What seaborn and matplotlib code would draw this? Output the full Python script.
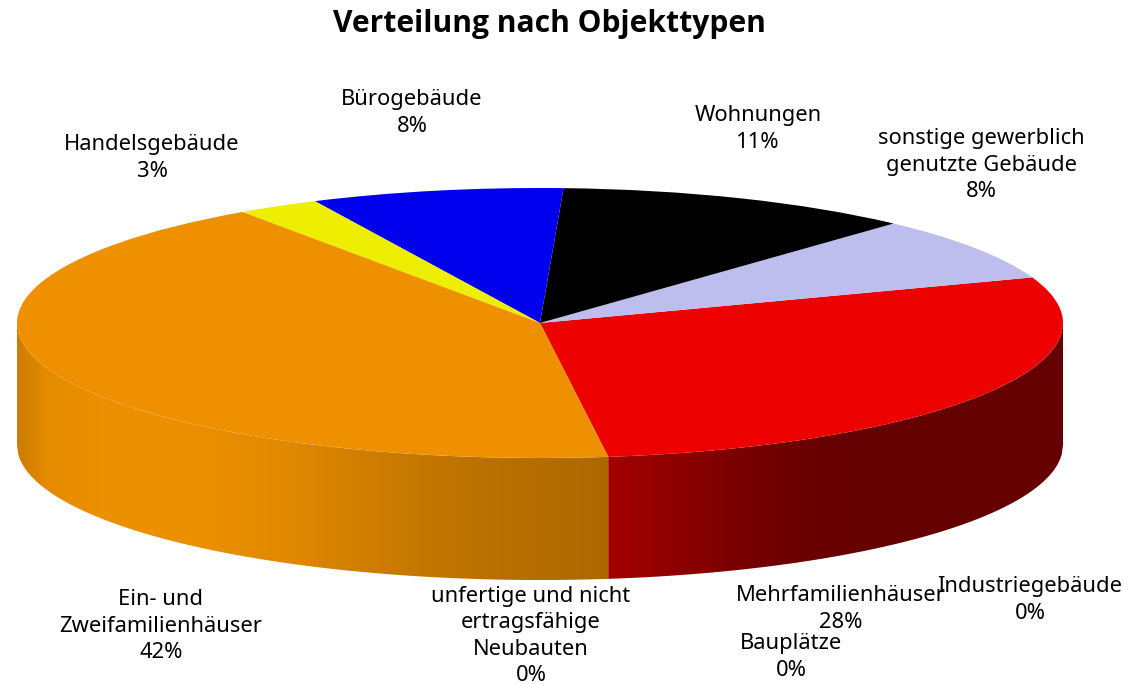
import numpy as np
import matplotlib
matplotlib.use("Agg")
import matplotlib.pyplot as plt
from matplotlib.patches import Polygon
import seaborn as sns

# data, counterclockwise from the front edge of the pie
categories = ["Mehrfamilienhäuser", "Industriegebäude", "sonstige gewerblich\ngenutzte Gebäude",
              "Wohnungen", "Bürogebäude", "Handelsgebäude", "Ein- und\nZweifamilienhäuser",
              "unfertige und nicht\nertragsfähige\nNeubauten", "Bauplätze"]
shares = [28.4, 0.0, 7.7, 11.1, 7.8, 2.55, 42.45, 0.0, 0.0]
colors = ["#ec0000", "#808000", "#bdbdee", "#000000", "#0000ee", "#eeee00", "#ee9000", "#008000", "#00aa00"]

# label centres in pixels
label_pos = [(841, 609), (1030, 600), (981, 165), (758, 129), (412, 113), (152, 158), (161, 626), (531, 636), (791, 657)]

W, H = 1128, 685
CX, CY, RX, RY, DEPTH = 540, 323, 523, 135, 122
START = -82.5

sns.set_theme(style="white")
plt.rcParams["font.family"] = ["Noto Sans", "DejaVu Sans"]

fig = plt.figure(figsize=(W / 100, H / 100), dpi=100)
ax = fig.add_axes([0, 0, 1, 1])

depth = DEPTH / RY
front = np.cos(np.radians(START))


def side_face(x0, x1, px_stops, rgb_stops):
    # one piece of the pie wall with a horizontal colour fade
    xs = np.linspace(x0, x1, 400)
    top = -np.sqrt(np.clip(1 - xs ** 2, 0, 1))
    outline = np.r_[np.c_[xs, top], np.c_[xs[::-1], top[::-1] - depth]]
    px = CX + RX * xs
    grad = np.stack([np.interp(px, px_stops, [c[i] for c in rgb_stops]) for i in range(3)], axis=-1) / 255
    img = ax.imshow(grad[np.newaxis, :, :], extent=(x0, x1, -1 - depth, 0), aspect="auto", zorder=1)
    patch = Polygon(outline, closed=True, transform=ax.transData, fc="none", ec="none")
    ax.add_patch(patch)
    img.set_clip_path(patch)


side_face(-1, front,
          [18, 45, 110, 200, 290, 400, 500, 608],
          [(205, 125, 0), (228, 139, 0), (238, 145, 0), (236, 144, 0), (224, 136, 0), (200, 122, 0), (185, 112, 0), (172, 104, 0)])
side_face(front, 1,
          [608, 680, 760, 850, 1063],
          [(165, 0, 0), (140, 0, 0), (115, 0, 0), (100, 0, 0), (100, 0, 0)])

# top surface
wedges, _ = ax.pie(shares, colors=colors, startangle=START, counterclock=True, radius=1, center=(0, 0),
                   wedgeprops={"linewidth": 0, "zorder": 2})
ax.set_aspect("auto")
ax.set_xlim((0 - CX) / RX, (W - CX) / RX)
ax.set_ylim((CY - H) / RY, CY / RY)
ax.axis("off")

for name, share, (x, y) in zip(categories, shares, label_pos):
    fig.text(x / W, 1 - y / H, f"{name}\n{round(share)}%", ha="center", va="center",
             fontsize=15.8, color="black", linespacing=1.32)

fig.text(549 / W, 1 - 24 / H, "Verteilung nach Objekttypen", ha="center", va="center",
         fontsize=21.6, fontweight="bold", family=["Open Sans", "DejaVu Sans"], color="black")

fig.savefig("out.png", dpi=100)
